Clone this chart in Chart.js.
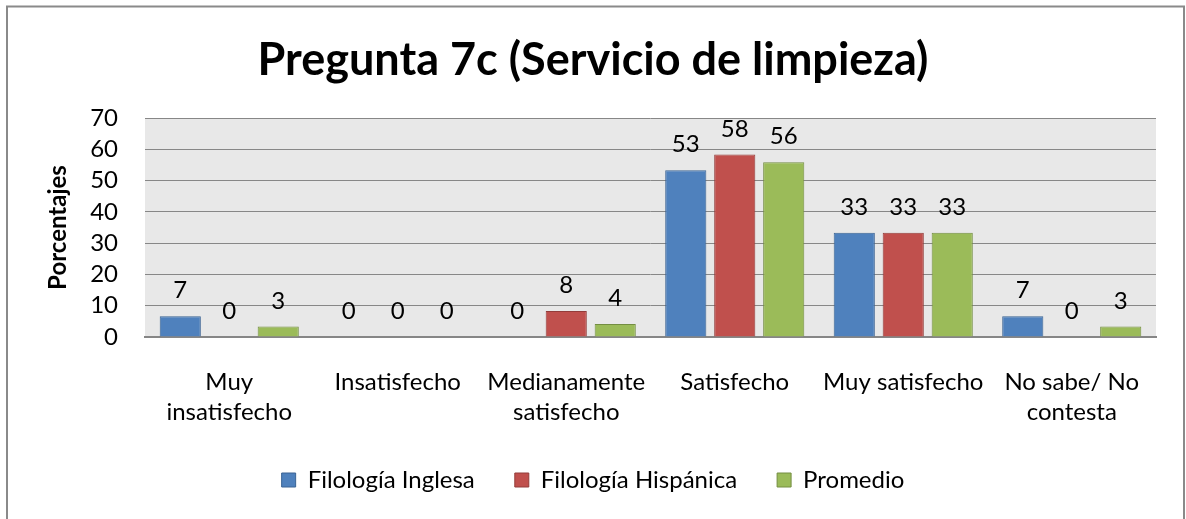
<!DOCTYPE html>
<html>
<head>
<meta charset="utf-8">
<title>Pregunta 7c</title>
<script src="https://cdn.jsdelivr.net/npm/chart.js@4"></script>
<style>
  html, body { margin: 0; padding: 0; background: #fff; }
  #wrap { width: 1186px; height: 519px; }
</style>
</head>
<body>
<div id="wrap"><canvas id="chart" width="1186" height="519"></canvas></div>
<script>
// datos
var categorias = [['Muy', 'insatisfecho'], 'Insatisfecho', ['Medianamente', 'satisfecho'], 'Satisfecho', 'Muy satisfecho', ['No sabe/ No', 'contesta']];
var filologiaInglesa = [6.67, 0, 0, 53.33, 33.33, 6.67];
var filologiaHispanica = [0, 0, 8.33, 58.33, 33.33, 0];
var promedio = [3.33, 0, 4.17, 55.83, 33.33, 3.33];
var ticksY = [0, 10, 20, 30, 40, 50, 60, 70];

var fuente = 'Lato, "Open Sans", sans-serif';

// fondo blanco, borde exterior y fondo gris del área de trazado
var fondoPlugin = {
  id: 'fondo',
  beforeDraw: function(chart) {
    var ctx = chart.ctx;
    var a = chart.chartArea;
    ctx.save();
    ctx.fillStyle = '#ffffff';
    ctx.fillRect(0, 0, chart.width, chart.height);
    ctx.fillStyle = '#e8e8e8';
    ctx.fillRect(a.left, a.top, a.right - a.left, a.bottom - a.top);
    ctx.strokeStyle = '#8a8a8a';
    ctx.lineWidth = 2;
    ctx.strokeRect(7, 6.5, 1177, 530);
    ctx.restore();
  }
};

// etiquetas de valor encima de cada barra
var etiquetasPlugin = {
  id: 'etiquetas',
  afterDatasetsDraw: function(chart) {
    var ctx = chart.ctx;
    ctx.save();
    ctx.font = '24px ' + fuente;
    ctx.fillStyle = '#000000';
    ctx.textAlign = 'center';
    ctx.textBaseline = 'alphabetic';
    chart.data.datasets.forEach(function(ds, i) {
      chart.getDatasetMeta(i).data.forEach(function(bar, j) {
        ctx.fillText(String(Math.round(ds.data[j])), bar.x, bar.y - 18);
      });
    });
    ctx.restore();
  }
};

var ctx = document.getElementById('chart');
var chart = new Chart(ctx, {
  type: 'bar',
  data: {
    labels: categorias,
    datasets: [
      {
        label: 'Filología Inglesa',
        data: filologiaInglesa,
        backgroundColor: '#4f81bd',
        borderColor: '#3a6394',
        borderWidth: 1
      },
      {
        label: 'Filología Hispánica',
        data: filologiaHispanica,
        backgroundColor: '#c0504d',
        borderColor: '#933c3a',
        borderWidth: 1
      },
      {
        label: 'Promedio',
        data: promedio,
        backgroundColor: '#9bbb59',
        borderColor: '#748e42',
        borderWidth: 1
      }
    ]
  },
  options: {
    responsive: false,
    animation: false,
    categoryPercentage: 0.872,
    barPercentage: 0.84,
    layout: {
      padding: { left: 30, right: 30, top: 0, bottom: 17 }
    },
    plugins: {
      title: {
        display: true,
        text: 'Pregunta 7c (Servicio de limpieza)',
        color: '#000000',
        font: { family: fuente, size: 45, weight: 'bold', lineHeight: 1.2 },
        padding: { top: 33, bottom: 31 }
      },
      legend: {
        position: 'bottom',
        labels: {
          color: '#000000',
          font: { family: fuente, size: 24 },
          boxWidth: 14,
          boxHeight: 14,
          padding: 40
        }
      },
      tooltip: { enabled: false }
    },
    scales: {
      x: {
        grid: { display: false, drawTicks: false },
        border: { display: true, color: '#868686', width: 2 },
        ticks: {
          color: '#000000',
          font: { family: fuente, size: 24, lineHeight: 1.25 },
          padding: 30,
          maxRotation: 0,
          autoSkip: false
        },
        afterFit: function(scale) { scale.height = 91; }
      },
      y: {
        min: 0,
        max: 70,
        afterBuildTicks: function(scale) {
          scale.ticks = ticksY.map(function(v) { return { value: v }; });
        },
        grid: { color: '#878787', lineWidth: 1, drawTicks: false },
        border: { display: false },
        ticks: {
          color: '#000000',
          font: { family: fuente, size: 24 },
          padding: 27,
          autoSkip: false
        },
        title: {
          display: true,
          text: 'Porcentajes',
          color: '#000000',
          font: { family: fuente, size: 24, weight: 'bold', lineHeight: 1.2 },
          padding: { top: 14, bottom: 0 }
        },
        afterFit: function(scale) { scale.width = 115; }
      }
    }
  },
  plugins: [fondoPlugin, etiquetasPlugin]
});
</script>
</body>
</html>
